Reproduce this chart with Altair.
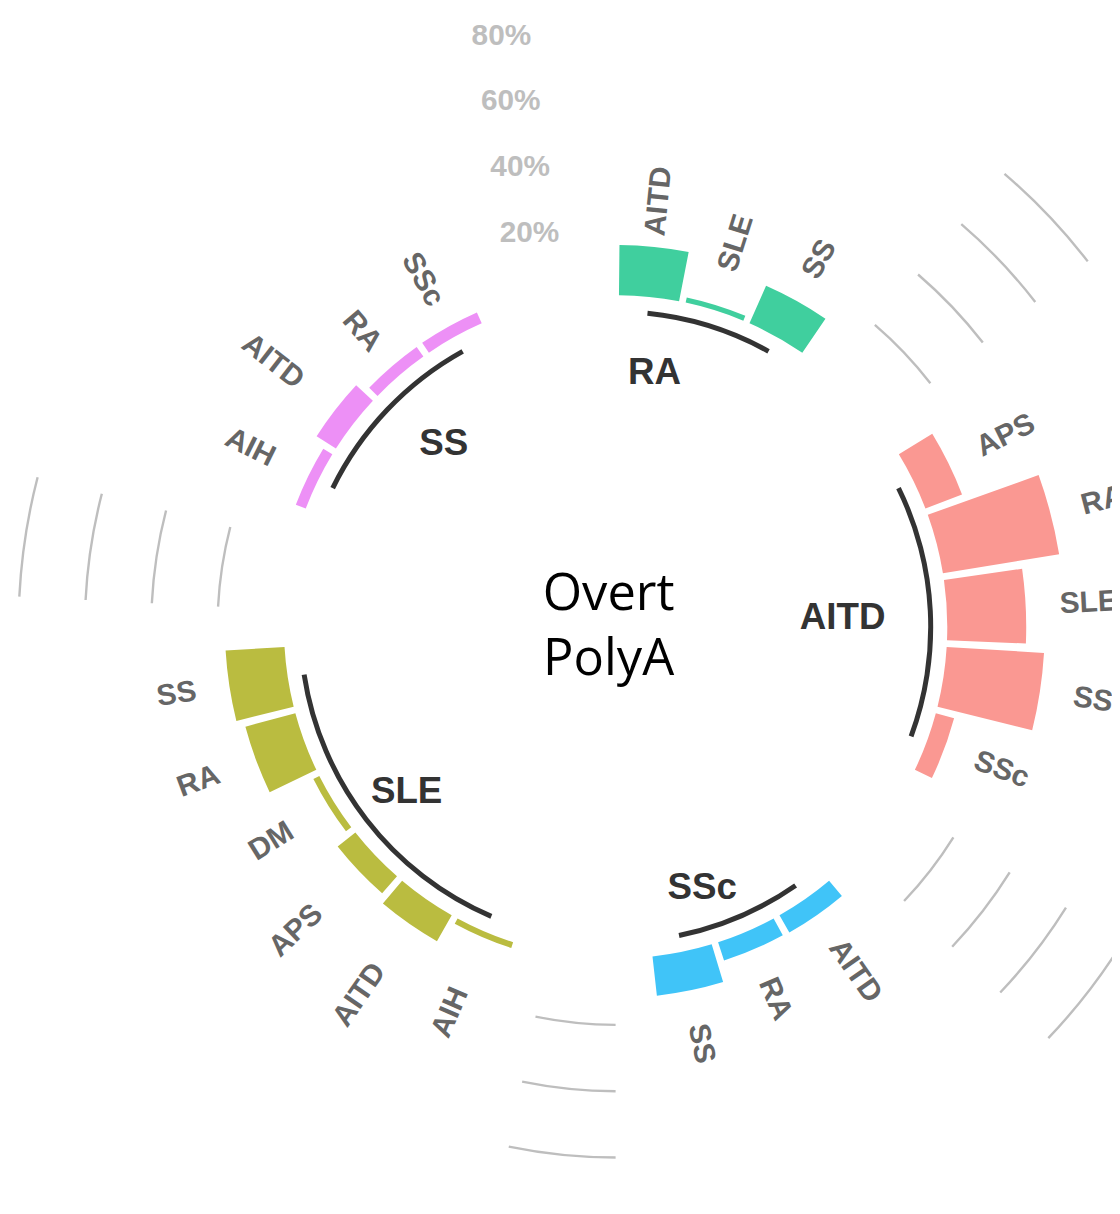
import math
import altair as alt
import pandas as pd

# ---------------- data ----------------
GROUPS = ["RA", "AITD", "SSc", "SLE", "SS"]
GROUP_COLORS = ["#40CF9E", "#FA9892", "#40C4F8", "#BABC40", "#ED90F6"]

RA_ITEMS = ["AITD", "SLE", "SS"]
RA_VALUES = [15.1, 1.6, 12.4]

AITD_ITEMS = ["APS", "RA", "SLE", "SS", "SSc"]
AITD_VALUES = [11.8, 35.5, 23.8, 29.4, 5.7]

SSC_ITEMS = ["AITD", "RA", "SS"]
SSC_VALUES = [6.0, 5.8, 11.9]

SLE_ITEMS = ["AIH", "AITD", "APS", "DM", "RA", "SS"]
SLE_VALUES = [1.8, 9.0, 6.8, 2.0, 15.6, 17.8]

SS_ITEMS = ["AIH", "AITD", "RA", "SSc"]
SS_VALUES = [3.2, 6.9, 3.5, 3.6]

GRID_LEVELS = [20, 40, 60, 80]
GRID_TEXT = ["20%", "40%", "60%", "80%"]

CENTER_TEXT = ["Overt", "PolyA"]

# ---------------- layout ----------------
EMPTY_SLOTS = 2          # empty bars after each group
BAR_WIDTH = 0.9          # fraction of a slot
LABEL_GAP = {            # radial gap (in % units) between bar end and its label
    "RA": [3.4, 10.9, 8.3],
    "AITD": [10, 9.7, 10.3, 10.2, 9.9],
    "SSc": [10, 9.8, 10.4],
    "SLE": [17, 15.7, 16.9, 13.3, 12, 10.1],
    "SS": [11.8, 13.3, 7.4, 7.7],
}
GROUP_LABEL_POS = {      # (slot position, radial % value) of group title centre
    "RA": (0.75, -22.5),
    "AITD": (7.55, -31.5),
    "SSc": (13.92, -17.0),
    "SLE": (19.95, -19.7),
    "SS": (27.28, -24.3),
}
PCT_LABEL_SLOT = 30.3

W, H = 1112, 1190
CX, CY = 612, 619
R_OUTER = 735

items = {"RA": RA_ITEMS, "AITD": AITD_ITEMS, "SSc": SSC_ITEMS, "SLE": SLE_ITEMS, "SS": SS_ITEMS}
values = {"RA": RA_VALUES, "AITD": AITD_VALUES, "SSc": SSC_VALUES, "SLE": SLE_VALUES, "SS": SS_VALUES}

bar_rows, base_rows, grid_rows = [], [], []
slot = 0
for gi, g in enumerate(GROUPS):
    first = slot
    for it, v, gap in zip(items[g], values[g], LABEL_GAP[g]):
        centre = slot + 0.5
        bar_rows.append(dict(group=g, item=it, value=v, base=0.0,
                             t0=slot + (1 - BAR_WIDTH) / 2, t1=slot + 1 - (1 - BAR_WIDTH) / 2,
                             tc=centre, label_r=v + gap))
        slot += 1
    last = slot - 1
    base_rows.append(dict(group=g, t0=first + 0.5, t1=last + 0.5, r=-5.0))
    gap_start = slot
    slot += EMPTY_SLOTS
    if gi < len(GROUPS) - 1:
        for lvl in GRID_LEVELS:
            grid_rows.append(dict(t0=gap_start + 0.5, t1=gap_start + EMPTY_SLOTS - 0.5, r=lvl))
N_SLOTS = slot

bars = pd.DataFrame(bar_rows)
deg = bars["tc"] / N_SLOTS * 360.0
bars["half"] = ["right" if d < 180 else "left" for d in deg]
bars["angle"] = [((d - 90) % 360) if d < 180 else ((d + 90) % 360) for d in deg]
base = pd.DataFrame(base_rows)
grid = pd.DataFrame(grid_rows)
pct = pd.DataFrame(dict(r=GRID_LEVELS, text=GRID_TEXT, t=[PCT_LABEL_SLOT] * len(GRID_LEVELS)))
glab = pd.DataFrame(dict(group=GROUPS,
                         t=[GROUP_LABEL_POS[g][0] for g in GROUPS],
                         r=[GROUP_LABEL_POS[g][1] for g in GROUPS]))

theta_scale = alt.Scale(domain=[0, N_SLOTS], range=[0, 2 * math.pi])
r_scale = alt.Scale(type="linear", domain=[-100, 120], range=[0, R_OUTER], zero=False)

grid_layer = alt.Chart(grid).mark_arc(x=CX, y=CY, color="#BEBEBE",
                                      radiusOffset=1.2, radius2Offset=-1.2).encode(
    theta=alt.Theta("t0:Q", scale=theta_scale, stack=None),
    theta2="t1:Q",
    radius=alt.Radius("r:Q", scale=r_scale),
    radius2="r:Q",
)

base_layer = alt.Chart(base).mark_arc(x=CX, y=CY, color="#333333",
                                      radiusOffset=2.5, radius2Offset=-2.5).encode(
    theta=alt.Theta("t0:Q", scale=theta_scale, stack=None),
    theta2="t1:Q",
    radius=alt.Radius("r:Q", scale=r_scale),
    radius2="r:Q",
)

bar_layer = alt.Chart(bars).mark_arc(x=CX, y=CY).encode(
    theta=alt.Theta("t0:Q", scale=theta_scale, stack=None),
    theta2="t1:Q",
    radius=alt.Radius("value:Q", scale=r_scale),
    radius2="base:Q",
    color=alt.Color("group:N", scale=alt.Scale(domain=GROUPS, range=GROUP_COLORS), legend=None),
)

label_style = dict(x=CX, y=CY, baseline="middle", font="Liberation Sans",
                   fontWeight="bold", fontSize=30, color="#666666")

def bar_labels(half, align):
    return alt.Chart(bars).transform_filter(alt.datum.half == half).mark_text(
        align=align, **label_style).encode(
        theta=alt.Theta("tc:Q", scale=theta_scale, stack=None),
        radius=alt.Radius("label_r:Q", scale=r_scale),
        text="item:N",
        angle=alt.Angle("angle:Q", scale=None),
    )

pct_layer = alt.Chart(pct).mark_text(x=CX, y=CY, align="right", baseline="middle",
                                     font="Liberation Sans", fontWeight="bold",
                                     fontSize=30, color="#BEBEBE").encode(
    theta=alt.Theta("t:Q", scale=theta_scale, stack=None),
    radius=alt.Radius("r:Q", scale=r_scale),
    text="text:N",
)

group_layer = alt.Chart(glab).mark_text(x=CX, y=CY, align="center", baseline="middle",
                                        font="Liberation Sans", fontWeight="bold",
                                        fontSize=37, color="#333333").encode(
    theta=alt.Theta("t:Q", scale=theta_scale, stack=None),
    radius=alt.Radius("r:Q", scale=r_scale),
    text="group:N",
)

center_layer = alt.Chart(pd.DataFrame({"k": [0]})).mark_text(
    x=CX - 7, y=CY - 32, align="center", baseline="middle", font="Open Sans",
    fontSize=51, lineHeight=66, color="#000000", text=CENTER_TEXT,
).encode(opacity=alt.value(1))

chart = alt.layer(
    grid_layer, base_layer, bar_layer,
    bar_labels("right", "left"), bar_labels("left", "right"),
    pct_layer, group_layer, center_layer,
).properties(
    width=W, height=H, padding=0, autosize=alt.AutoSizeParams(type="none"),
).configure_view(stroke=None)

chart.save("out.html", embed_options={"renderer": "svg", "actions": False})
